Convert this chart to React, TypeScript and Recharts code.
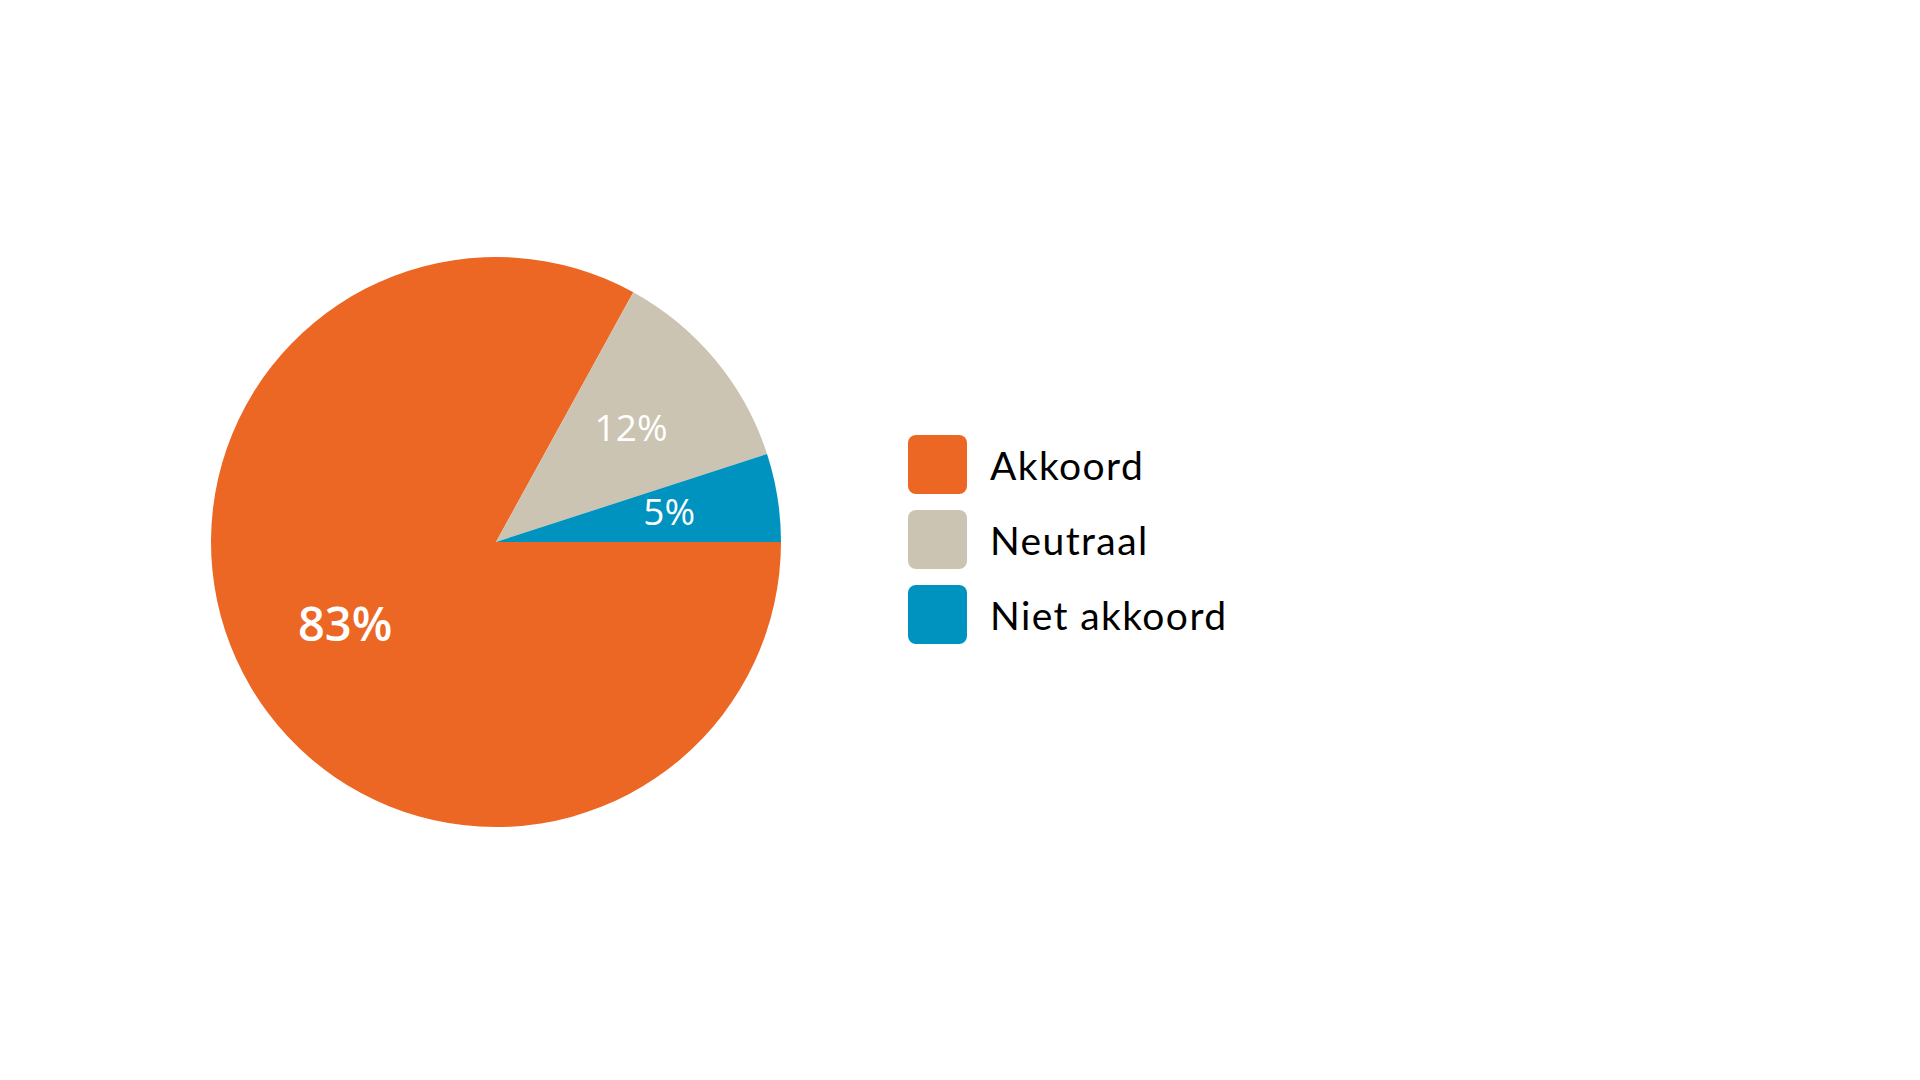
import React from "react";
import { PieChart, Pie, Cell, Legend } from "recharts";

const categories = ["Akkoord", "Neutraal", "Niet akkoord"];
const shares = [83, 12, 5];
const colors = ["#EC6624", "#CCC4B2", "#0093BF"];

const data = categories.map((name, i) => ({ name, value: shares[i] }));

const RAD = Math.PI / 180;

function renderLabel(props: any) {
  const { cx, cy, midAngle, outerRadius, index, value } = props;
  const r = outerRadius * 0.615;
  const x = cx + r * Math.cos(-midAngle * RAD);
  const y = cy + r * Math.sin(-midAngle * RAD);
  const big = index === 0;
  return (
    <text
      x={x}
      y={y - (big ? 8 : 4)}
      fill="#fff"
      textAnchor="middle"
      dominantBaseline="central"
      fontFamily="'Open Sans', sans-serif"
      fontSize={big ? 47 : 37}
      fontWeight={big ? 600 : 400}
    >
      {value}%
    </text>
  );
}

function LegendBox({ payload }: any) {
  return (
    <div style={{ display: "flex", flexDirection: "column" }}>
      {(payload || []).map((entry: any, i: number) => (
        <div
          key={entry.value}
          style={{ display: "flex", alignItems: "center", height: 59, marginBottom: i < 2 ? 16 : 0 }}
        >
          <div
            style={{
              width: 59,
              height: 59,
              borderRadius: 8,
              background: entry.color,
              marginRight: 23,
            }}
          />
          <span
            style={{
              fontFamily: "'Lato', sans-serif",
              fontSize: 39,
              color: "#000",
              letterSpacing: 1.4,
            }}
          >
            {entry.value}
          </span>
        </div>
      ))}
    </div>
  );
}

export default function App() {
  return (
    <div style={{ position: "absolute", left: 0, top: 0, width: 1920, height: 1080, background: "#fff" }}>
      <PieChart width={1920} height={1080}>
        <Pie
          data={data}
          dataKey="value"
          nameKey="name"
          cx={491}
          cy={537}
          outerRadius={285}
          startAngle={0}
          endAngle={-360}
          stroke="none"
          label={renderLabel}
          labelLine={false}
          isAnimationActive={false}
        >
          {data.map((d, i) => (
            <Cell key={d.name} fill={colors[i]} />
          ))}
        </Pie>
        <Legend
          layout="vertical"
          content={<LegendBox />}
          wrapperStyle={{ position: "absolute", left: 908, top: 435, width: 500 }}
        />
      </PieChart>
    </div>
  );
}
